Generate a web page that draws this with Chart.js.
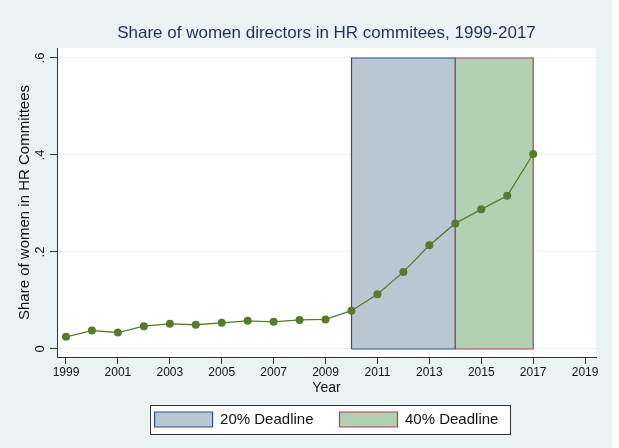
<!DOCTYPE html>
<html>
<head>
<meta charset="utf-8">
<title>Share of women directors in HR commitees</title>
<script src="https://cdn.jsdelivr.net/npm/chart.js@4.4.1/dist/chart.umd.min.js"></script>
<style>
  html, body { margin: 0; padding: 0; background: #fff; }
  #wrap { width: 612px; height: 448px; }
</style>
</head>
<body>
<div id="wrap"><canvas id="chart" width="612" height="448"></canvas></div>
<script>
// ── data ──
const years = [1999, 2000, 2001, 2002, 2003, 2004, 2005, 2006, 2007, 2008,
               2009, 2010, 2011, 2012, 2013, 2014, 2015, 2016, 2017];
const shares = [0.025, 0.038, 0.034, 0.047, 0.052, 0.050, 0.054, 0.058, 0.056, 0.060,
                0.061, 0.079, 0.113, 0.159, 0.214, 0.259, 0.288, 0.316, 0.402];

// deadline periods [from, to] and their height
const deadline20 = [2010, 2014];
const deadline40 = [2014, 2017];
const deadlineTop = 0.6;
const deadlineLabels = ['20% Deadline', '40% Deadline'];

const xTicks = [1999, 2001, 2003, 2005, 2007, 2009, 2011, 2013, 2015, 2017, 2019];
const yTicks = [0, 0.2, 0.4, 0.6];
const yTickLabels = ['0', '.2', '.4', '.6'];

const FONT = 'Liberation Sans, Arial, Helvetica, sans-serif';
const BG = '#eaf2f3';

// closed rectangle path for a period
function boxPoints(period, top) {
  return [
    { x: period[0], y: 0 },
    { x: period[0], y: top },
    { x: period[1], y: top },
    { x: period[1], y: 0 },
    { x: period[0], y: 0 }
  ];
}

// background, white plot region and legend frame
const stataFrame = {
  id: 'stataFrame',
  beforeDraw(chart) {
    const { ctx, chartArea: a, legend } = chart;
    ctx.save();
    ctx.fillStyle = BG;
    ctx.fillRect(0, 0, chart.width, chart.height);
    ctx.fillStyle = '#fff';
    ctx.fillRect(a.left, a.top, a.right - a.left, a.bottom - a.top);

    const hb = legend && legend.legendHitBoxes;
    if (hb && hb.length) {
      const l = hb[0].left - 5;
      const r = hb[hb.length - 1].left + hb[hb.length - 1].width + 11;
      const t = hb[0].top - 7;
      const b = hb[0].top + hb[0].height + 7;
      ctx.fillStyle = '#fff';
      ctx.fillRect(l, t, r - l, b - t);
      ctx.strokeStyle = '#333';
      ctx.lineWidth = 1;
      ctx.strokeRect(Math.round(l) + 0.5, Math.round(t) + 0.5, Math.round(r - l), Math.round(b - t));
    }
    ctx.restore();
  }
};

new Chart(document.getElementById('chart'), {
  type: 'line',
  data: {
    datasets: [
      {
        label: 'share',
        data: years.map((y, i) => ({ x: y, y: shares[i] })),
        borderColor: '#587a2c',
        backgroundColor: '#587a2c',
        borderWidth: 1.3,
        pointRadius: 4,
        pointBorderWidth: 0,
        tension: 0,
        fill: false,
        order: 0
      },
      {
        label: deadlineLabels[0],
        data: boxPoints(deadline20, deadlineTop),
        borderColor: '#26548a',
        backgroundColor: '#b9c7d3',
        borderWidth: 1.2,
        pointRadius: 0,
        tension: 0,
        fill: 'shape',
        order: 2
      },
      {
        label: deadlineLabels[1],
        data: boxPoints(deadline40, deadlineTop),
        borderColor: '#b0404e',
        backgroundColor: '#b3d0b2',
        borderWidth: 1.2,
        pointRadius: 0,
        tension: 0,
        fill: 'shape',
        order: 1
      }
    ]
  },
  options: {
    responsive: false,
    animation: false,
    events: [],
    layout: { padding: { left: 0, right: 16, top: 0, bottom: 11 } },
    plugins: {
      tooltip: { enabled: false },
      title: {
        display: true,
        fullSize: false,
        text: 'Share of women directors in HR commitees, 1999-2017',
        color: '#1e3259',
        font: { family: FONT, size: 17, weight: 'normal', lineHeight: 1.2 },
        padding: { top: 23, bottom: 4.6 }
      },
      legend: {
        position: 'bottom',
        fullSize: false,
        labels: {
          filter: item => item.datasetIndex > 0,
          sort: (a, b) => a.datasetIndex - b.datasetIndex,
          boxWidth: 58,
          boxHeight: 15,
          padding: 26,
          color: '#111',
          font: { family: FONT, size: 15 }
        }
      }
    },
    scales: {
      x: {
        type: 'linear',
        min: 1998.654,
        max: 2019.42,
        afterBuildTicks: s => { s.ticks = xTicks.map(v => ({ value: v })); },
        afterFit: s => { s.height = 29; },
        ticks: {
          color: '#111',
          font: { family: FONT, size: 12 },
          padding: 1,
          maxRotation: 0,
          autoSkip: false,
          callback: v => String(v)
        },
        grid: { drawOnChartArea: false, drawTicks: true, tickLength: 7, tickColor: '#333' },
        border: { display: true, color: '#333', width: 1 },
        title: {
          display: true,
          text: 'Year',
          color: '#111',
          font: { family: FONT, size: 14 },
          padding: { top: 0, bottom: -10.4 }
        }
      },
      y: {
        min: -0.0165,
        max: 0.6206,
        afterBuildTicks: s => { s.ticks = yTicks.map(v => ({ value: v })); },
        afterFit: s => { s.width = 57; },
        ticks: {
          color: '#111',
          font: { family: FONT, size: 13 },
          padding: 4.6,
          minRotation: 90,
          maxRotation: 90,
          crossAlign: 'center',
          autoSkip: false,
          callback: v => yTickLabels[yTicks.indexOf(v)]
        },
        grid: { color: BG, lineWidth: 1, drawTicks: true, tickLength: 7, tickColor: '#333' },
        border: { display: true, color: '#333', width: 1 },
        title: {
          display: true,
          text: 'Share of women in HR Committees',
          color: '#111',
          font: { family: FONT, size: 15 },
          padding: { top: 16, bottom: 0 }
        }
      }
    }
  },
  plugins: [stataFrame]
});
</script>
</body>
</html>
